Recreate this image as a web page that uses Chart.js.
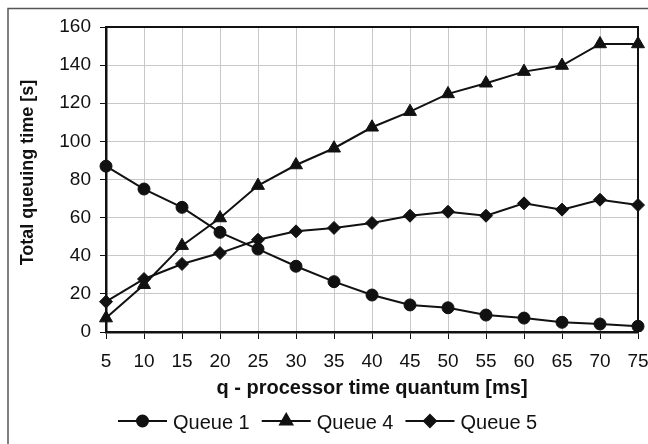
<!DOCTYPE html>
<html>
<head>
<meta charset="utf-8">
<script src="https://cdn.jsdelivr.net/npm/chart.js@4.4.1/dist/chart.umd.min.js"></script>
<style>
  html, body { margin: 0; padding: 0; background: #fff; }
  #wrap { width: 648px; height: 444px; position: relative; }
</style>
</head>
<body>
<div id="wrap"><canvas id="chart" width="648" height="444"></canvas></div>
<script>
// data
var quantumLabels = ['5', '10', '15', '20', '25', '30', '35', '40', '45', '50', '55', '60', '65', '70', '75'];
var queue1 = [87, 75, 65.4, 52.3, 43.5, 34.5, 26.4, 19.4, 14.2, 12.7, 8.9, 7.3, 5.1, 4.2, 3];
var queue4 = [7.3, 24.8, 45.3, 59.8, 76.8, 87.6, 96.4, 107.4, 115.6, 124.9, 130.5, 136.6, 139.8, 151.1, 151.1];
var queue5 = [15.9, 27.8, 35.7, 41.4, 48.4, 52.8, 54.6, 57.2, 61, 63.1, 61, 67.5, 64.2, 69.4, 66.6];
var seriesNames = ['Queue 1', 'Queue 4', 'Queue 5'];
var yTicks = [0, 20, 40, 60, 80, 100, 120, 140, 160];
var yTitle = 'Total queuing time [s]';

var FONT = "'Liberation Sans', Arial, sans-serif";

function makeSet(name, values, style, radius) {
    return {
        label: name,
        data: values,
        borderColor: '#111',
        backgroundColor: '#111',
        borderWidth: 2,
        pointStyle: style,
        pointRadius: radius,
        pointBorderWidth: 1,
        pointBackgroundColor: '#111',
        pointBorderColor: '#111',
        tension: 0
    };
}

// frame, outer box, y title and legend with line + marker
var extras = {
    id: 'extras',
    afterDraw: function (chart) {
        var ctx = chart.ctx;
        var a = chart.chartArea;
        ctx.save();
        // outer box (runs off the right/bottom)
        ctx.strokeStyle = '#555';
        ctx.lineWidth = 1.5;
        ctx.strokeRect(8, 8.5, 700, 500);
        // top + right frame of the plot
        ctx.strokeStyle = '#111';
        ctx.lineWidth = 2;
        ctx.beginPath();
        ctx.moveTo(a.left, a.top);
        ctx.lineTo(a.right, a.top);
        ctx.lineTo(a.right, a.bottom);
        ctx.stroke();

        // y title, sits a little above the middle of the axis
        ctx.save();
        ctx.translate(28, a.top + (a.bottom - a.top) / 2 - 7);
        ctx.rotate(-Math.PI / 2);
        ctx.font = 'bold 18px ' + FONT;
        ctx.textAlign = 'center';
        ctx.textBaseline = 'middle';
        ctx.fillStyle = '#111';
        ctx.fillText(yTitle, 0, 0);
        ctx.restore();

        // legend
        ctx.font = '20px ' + FONT;
        ctx.textBaseline = 'middle';
        ctx.fillStyle = '#111';
        var x = 118, y = 421;
        chart.data.datasets.forEach(function (ds) {
            ctx.strokeStyle = '#111';
            ctx.lineWidth = 2;
            ctx.beginPath();
            ctx.moveTo(x, y);
            ctx.lineTo(x + 49, y);
            ctx.stroke();
            Chart.helpers.drawPoint(ctx, {
                pointStyle: ds.pointStyle, radius: ds.pointRadius - 0.5, rotation: 0, borderWidth: 1
            }, x + 24.5, y);
            ctx.fillText(ds.label, x + 55, y + 2);
            x += 55 + ctx.measureText(ds.label).width + 12;
        });
        ctx.restore();
    }
};

new Chart(document.getElementById('chart'), {
    type: 'line',
    data: {
        labels: quantumLabels,
        datasets: [
            makeSet(seriesNames[0], queue1, 'circle', 6),
            makeSet(seriesNames[1], queue4, 'triangle', 7.5),
            makeSet(seriesNames[2], queue5, 'rectRot', 6.5)
        ]
    },
    options: {
        responsive: false,
        animation: false,
        layout: { padding: { left: 0, right: 10, top: 27, bottom: 42 } },
        plugins: {
            legend: { display: false },
            tooltip: { enabled: false }
        },
        scales: {
            x: {
                offset: false,
                grid: { color: '#c8c8c8', lineWidth: 1, tickLength: 7, tickColor: '#111' },
                border: { color: '#111', width: 2.5 },
                ticks: { color: '#111', font: { family: FONT, size: 19 }, padding: 11, maxRotation: 0, autoSkip: false },
                title: {
                    display: true, text: 'q - processor time quantum [ms]', color: '#111',
                    font: { family: FONT, size: 20, weight: 'bold' }, padding: { top: 0, bottom: 2 }
                },
                afterFit: function (s) {
                    s.height = 70;
                    s.paddingLeft = 0;
                    s.paddingRight = 0;
                }
            },
            y: {
                min: 0, max: 160,
                afterBuildTicks: function (s) { s.ticks = yTicks.map(function (v) { return { value: v }; }); },
                grid: { color: '#c8c8c8', lineWidth: 1, tickLength: 6, tickColor: '#111' },
                border: { color: '#111', width: 2.5 },
                ticks: { color: '#111', font: { family: FONT, size: 19 }, padding: 9 },
                afterFit: function (s) {
                    s.width = 106;
                    s.paddingTop = 0;
                    s.paddingBottom = 0;
                }
            }
        }
    },
    plugins: [extras]
});
</script>
</body>
</html>
